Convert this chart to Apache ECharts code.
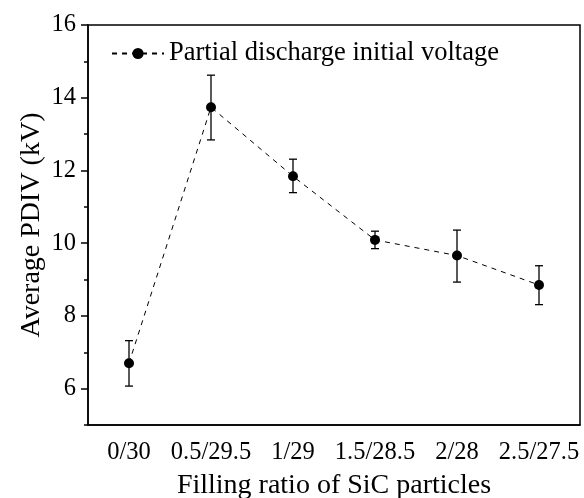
<!DOCTYPE html>
<html>
<head>
<meta charset="utf-8">
<script src="https://cdn.jsdelivr.net/npm/echarts@6/dist/echarts.min.js"></script>
<style>html,body{margin:0;padding:0;background:#fff}#c{width:584px;height:498px}</style>
</head>
<body>
<div id="c"></div>
<script>
var categories = ['0/30', '0.5/29.5', '1/29', '1.5/28.5', '2/28', '2.5/27.5'];
var pdiv = [6.70, 13.74, 11.84, 10.09, 9.66, 8.85];
var errLow = [6.07, 12.84, 11.39, 9.85, 8.93, 8.31];
var errHigh = [7.32, 14.62, 12.31, 10.33, 10.36, 9.38];
var yMajorTicks = [6, 8, 10, 12, 14, 16];
var yMinorTicks = [5, 7, 9, 11, 13, 15];

var FONT = '"Liberation Serif", "Times New Roman", serif';
var chart = echarts.init(document.getElementById('c'), null, {renderer: 'canvas'});

var errData = categories.map(function (c, i) { return [i, errLow[i], errHigh[i]]; });

chart.setOption({
  animation: false,
  textStyle: {fontFamily: FONT},
  grid: {left: 88, right: 4, top: 25, bottom: 73, outerBoundsMode: 'none', containLabel: false,
         show: true, borderColor: '#000', borderWidth: 1.5, backgroundColor: 'transparent'},
  legend: {
    left: 106, top: 35, itemWidth: 52, itemHeight: 14, itemGap: 4,
    textStyle: {fontFamily: FONT, fontSize: 26.5, color: '#000'},
    data: ['Partial discharge initial voltage']
  },
  xAxis: [{
    type: 'category', data: categories, position: 'bottom',
    axisLine: {lineStyle: {color: '#000', width: 1.5}},
    axisTick: {alignWithLabel: true, interval: 0, length: 7, lineStyle: {color: '#000', width: 1.5}},
    axisLabel: {fontFamily: FONT, fontSize: 24.5, color: '#000', margin: 15, interval: 0, hideOverlap: false},
    name: 'Filling ratio of SiC particles', nameLocation: 'middle', nameGap: 47,
    nameTextStyle: {fontFamily: FONT, fontSize: 28, color: '#000'}
  }, {
    type: 'category', data: categories, position: 'bottom',
    axisLine: {show: false},
    axisTick: {interval: 0, length: 4, lineStyle: {color: '#000', width: 1.5}},
    axisLabel: {show: false}
  }],
  yAxis: [{
    type: 'value', min: 5, max: 16,
    axisLine: {show: true, lineStyle: {color: '#000', width: 1.5}},
    axisTick: {show: true, length: 7, customValues: yMajorTicks, lineStyle: {color: '#000', width: 1.5}},
    axisLabel: {fontFamily: FONT, fontSize: 24.5, color: '#000', margin: 12, customValues: yMajorTicks},
    splitLine: {show: false},
    name: 'Average PDIV (kV)', nameLocation: 'middle', nameGap: 42, nameMoveOverlap: false,
    nameTextStyle: {fontFamily: FONT, fontSize: 28, color: '#000'}
  }, {
    type: 'value', min: 5, max: 16, position: 'left',
    axisLine: {show: false},
    axisTick: {show: true, length: 4, customValues: yMinorTicks, lineStyle: {color: '#000', width: 1.5}},
    axisLabel: {show: false},
    splitLine: {show: false}
  }],
  series: [{
    name: 'Partial discharge initial voltage',
    type: 'line', data: pdiv, xAxisIndex: 0, yAxisIndex: 0,
    symbol: 'circle', symbolSize: 10,
    lineStyle: {color: '#000', width: 1, type: [5, 5]},
    itemStyle: {color: '#000'},
    z: 3
  }, {
    type: 'custom', xAxisIndex: 0, yAxisIndex: 0,
    data: errData,
    renderItem: function (params, api) {
      var x = api.value(0);
      var lo = api.coord([x, api.value(1)]);
      var hi = api.coord([x, api.value(2)]);
      var hw = 4;
      var st = {stroke: '#000', lineWidth: 1.3};
      return {type: 'group', children: [
        {type: 'line', shape: {x1: lo[0], y1: lo[1], x2: hi[0], y2: hi[1]}, style: st},
        {type: 'line', shape: {x1: lo[0] - hw, y1: lo[1], x2: lo[0] + hw, y2: lo[1]}, style: st},
        {type: 'line', shape: {x1: hi[0] - hw, y1: hi[1], x2: hi[0] + hw, y2: hi[1]}, style: st}
      ]};
    },
    z: 2
  }]
});
</script>
</body>
</html>
